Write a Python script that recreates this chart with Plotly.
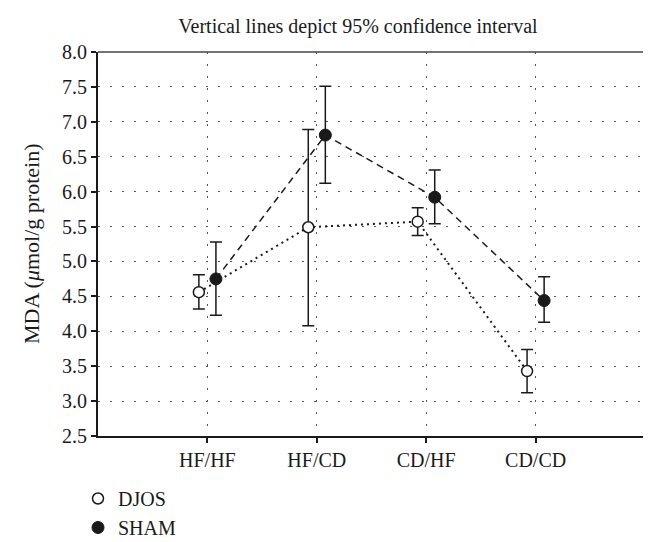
import plotly.graph_objects as go

categories = ["HF/HF", "HF/CD", "CD/HF", "CD/CD"]
djos_mean = [4.56, 5.49, 5.57, 3.43]
djos_upper = [4.81, 6.89, 5.77, 3.74]
djos_lower = [4.32, 4.08, 5.37, 3.12]
sham_mean = [4.75, 6.81, 5.92, 4.44]
sham_upper = [5.28, 7.51, 6.31, 4.78]
sham_lower = [4.23, 6.12, 5.54, 4.13]
yticks = [2.5, 3.0, 3.5, 4.0, 4.5, 5.0, 5.5, 6.0, 6.5, 7.0, 7.5, 8.0]

off = 0.078
idx = list(range(len(categories)))
FONT = "Liberation Serif, DejaVu Serif, serif"
INK = "#1a1a1a"

fig = go.Figure()
# connecting lines (no legend)
fig.add_trace(go.Scatter(
    x=[i - off for i in idx], y=djos_mean, mode="lines", showlegend=False, hoverinfo="skip",
    line=dict(color=INK, width=2, dash="2px,4px"),
))
fig.add_trace(go.Scatter(
    x=[i + off for i in idx], y=sham_mean, mode="lines", showlegend=False, hoverinfo="skip",
    line=dict(color=INK, width=1.5, dash="7px,5px"),
))
fig.add_trace(go.Scatter(
    x=[i - off for i in idx], y=djos_mean, name="DJOS", mode="markers",
    marker=dict(symbol="circle", size=11, color="white", line=dict(color=INK, width=1.5)),
    error_y=dict(type="data", symmetric=False,
                 array=[u - m for u, m in zip(djos_upper, djos_mean)],
                 arrayminus=[m - l for m, l in zip(djos_mean, djos_lower)],
                 color=INK, thickness=1.5, width=6),
))
fig.add_trace(go.Scatter(
    x=[i + off for i in idx], y=sham_mean, name="SHAM", mode="markers",
    marker=dict(symbol="circle", size=12, color=INK, line=dict(color=INK, width=1)),
    error_y=dict(type="data", symmetric=False,
                 array=[u - m for u, m in zip(sham_upper, sham_mean)],
                 arrayminus=[m - l for m, l in zip(sham_mean, sham_lower)],
                 color=INK, thickness=1.5, width=6),
))

fig.update_layout(
    width=651, height=542,
    margin=dict(l=90, r=14, t=44, b=114, autoexpand=False),
    paper_bgcolor="white", plot_bgcolor="white",
    font=dict(family=FONT, size=20, color=INK),
    title=dict(text="Vertical lines depict 95% confidence interval", x=(350 - 90) / 547, xref="paper",
               xanchor="center", y=1 - 18 / 542, yanchor="middle", font=dict(size=20)),
    showlegend=True,
    legend=dict(x=(70 - 90) / 547, xanchor="left", y=(428 - 471) / 384, yanchor="top",
                orientation="v", font=dict(size=20), tracegroupgap=0, itemwidth=30,
                bgcolor="rgba(0,0,0,0)"),
    xaxis=dict(range=[-1, 4], tickvals=idx, ticktext=categories, showgrid=True,
               gridcolor="#555", griddash="1.5px,10.5px", gridwidth=1,
               showline=True, linecolor=INK, linewidth=2, ticks="outside",
               ticklen=5, tickcolor=INK, tickwidth=2, zeroline=False, automargin=False),
    yaxis=dict(range=[2.5, 8.0], tickvals=yticks, ticktext=[f"{v:.1f}" for v in yticks],
               showgrid=True, gridcolor="#555", griddash="1.5px,10.5px", gridwidth=1,
               showline=True, linecolor=INK, linewidth=2, ticks="outside",
               ticklen=5, tickcolor=INK, tickwidth=2, zeroline=False, automargin=False),
)
fig.add_annotation(text="MDA (<i>μ</i>mol/g protein)", xref="paper", yref="paper",
                   x=(23 - 90) / 547, y=0.5, textangle=-90, showarrow=False,
                   xanchor="center", yanchor="middle", font=dict(size=22, family=FONT, color=INK))
fig.add_shape(type="line", xref="paper", yref="paper", x0=0, x1=1, y0=1, y1=1,
              line=dict(color="#444", width=1.5))
fig.add_shape(type="line", xref="paper", yref="paper", x0=1, x1=1, y0=0, y1=1,
              line=dict(color="#444", width=1.5))

fig.write_html("out.html")
